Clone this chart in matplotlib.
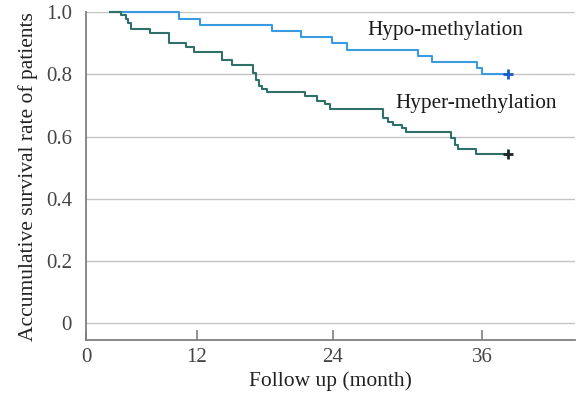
import numpy as np
import matplotlib
matplotlib.use("Agg")
import matplotlib.pyplot as plt

# survival curves (months, survival rate)
hypo_t = [2.7, 10.05, 12.3, 18.6, 21.2, 23.9, 25.1, 30.85, 32.0, 35.6, 36.0, 38.1]
hypo_s = [1.0, 0.98, 0.96, 0.94, 0.92, 0.90, 0.88, 0.86, 0.84, 0.82, 0.80, 0.80]

hyper_t = [2.6, 3.75, 4.3, 4.55, 4.85, 6.9, 9.0, 10.8, 11.7, 14.25, 15.05, 16.95, 17.2,
           17.45, 17.75, 18.15, 21.5, 22.55, 23.3, 23.75, 28.05, 28.45, 28.85, 29.55,
           29.9, 33.55, 33.85, 34.1, 35.5, 38.1]
hyper_s = [1.0, 0.99, 0.98, 0.966, 0.946, 0.932, 0.901, 0.887, 0.872, 0.845, 0.832, 0.804,
           0.782, 0.763, 0.753, 0.744, 0.731, 0.716, 0.704, 0.688, 0.659, 0.648, 0.638,
           0.627, 0.614, 0.595, 0.573, 0.559, 0.544, 0.544]

x_ticks = [0, 12, 24, 36]
y_ticks = [0, 0.2, 0.4, 0.6, 0.8, 1.0]
y_labels = ["0", "0.2", "0.4", "0.6", "0.8", "1.0"]

# the month axis in the original is not evenly spaced
knot_m = [-12, 0, 12, 24, 36, 60]
knot_p = [-111, 0, 111, 247, 396, 694]
fwd = lambda x: np.interp(x, knot_m, knot_p)
inv = lambda p: np.interp(p, knot_p, knot_m)

plt.rcParams['font.family'] = ['Liberation Serif', 'DejaVu Serif']

fig = plt.figure(figsize=(5.78, 3.97), dpi=100)
ax = fig.add_axes([86/578, 1-340/397, (575-86)/578, (340-12.3)/397])
ax.set_xscale('function', functions=(fwd, inv))

ax.step(hypo_t, hypo_s, where='post', color='#3a9be0', lw=1.5, clip_on=False, zorder=3)
ax.step(hyper_t, hyper_s, where='post', color='#2f7068', lw=1.5, clip_on=False, zorder=3)
ax.plot(hypo_t[-1], hypo_s[-1], marker='+', color='#1a5cc8', ms=7, mew=2, clip_on=False, zorder=4)
ax.plot(hyper_t[-1], hyper_s[-1], marker='+', color='#1a2a28', ms=7, mew=2, clip_on=False, zorder=4)

ax.text(26.8, 0.94, "Hypo-methylation", fontsize=15.3, va='center', ha='left', color='#1a1a1a')
ax.text(29.0, 0.707, "Hyper-methylation", fontsize=15.3, va='center', ha='left', color='#1a1a1a')

ax.set_xlim(0, 43.5)
ax.set_ylim(-0.054, 1.0)
ax.set_xticks(x_ticks)
ax.set_xticklabels([str(t) for t in x_ticks])
ax.set_yticks(y_ticks)
ax.set_yticklabels(y_labels)
ax.tick_params(axis='x', direction='in', length=7, width=1.2, color='#808080',
               labelsize=15, pad=6, labelcolor='#444444')
ax.tick_params(axis='y', length=0, labelsize=15, pad=10, labelcolor='#444444')
ax.grid(axis='y', color='#c4c4c4', lw=1)
for s in ['top', 'right']:
    ax.spines[s].set_visible(False)
for s in ['left', 'bottom']:
    ax.spines[s].set_color('#808080')
    ax.spines[s].set_linewidth(1.3)

ax.set_xlabel("Follow up (month)", fontsize=15.5, labelpad=3, color='#222222')
ax.set_ylabel("Accumulative survival rate of patients", fontsize=15.5, labelpad=6, color='#222222')

fig.savefig("out.png", dpi=100)
